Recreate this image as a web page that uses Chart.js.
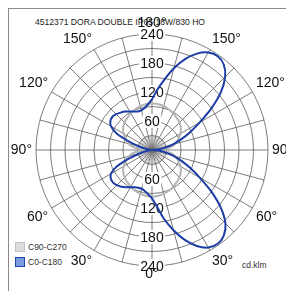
<!DOCTYPE html>
<html>
<head>
<meta charset="utf-8">
<script src="https://cdn.jsdelivr.net/npm/chart.js@4/dist/chart.umd.min.js"></script>
<style>
  html, body { margin: 0; padding: 0; background: #fff; }
  #wrap { position: relative; width: 286px; height: 291px; overflow: hidden;
          font-family: "Liberation Sans", Arial, sans-serif; }
  #frame { position: absolute; left: 8px; top: 8px; right: -4px; bottom: -4px;
           border-left: 1px solid #8a8a8a; border-top: 1px solid #8a8a8a; }
  #title { position: absolute; left: 35px; top: 17px; font-size: 8.6px; line-height: 10px;
           color: #222; white-space: nowrap; }
  #chart { position: absolute; left: 0; top: 0; }
  .leg { position: absolute; left: 15px; height: 10px; font-size: 8.5px; line-height: 10px;
         color: #333; white-space: nowrap; }
  .leg i { display: inline-block; width: 8px; height: 8px; vertical-align: top;
           margin-right: 3px; }
  #unit { position: absolute; left: 242px; top: 260px; font-size: 8.5px; line-height: 10px; color: #333; }
</style>
</head>
<body>
<div id="wrap">
  <div id="frame"></div>
  <div id="title">4512371 DORA DOUBLE IP65 18W/830 HO</div>
  <div class="leg" style="top:242px"><i style="background:#dcdcdc;border:1px solid #c2c2c2"></i>C90-C270</div>
  <div class="leg" style="top:257px"><i style="background:#7c9ce0;border:1px solid #1f43a8"></i>C0-C180</div>
  <div id="unit">cd.klm</div>
  <canvas id="chart" width="286" height="291"></canvas>
</div>
<script>
// gamma angles (0 = down, 180 = up), every 5 deg
const gammaDeg = [0, 5, 10, 15, 20, 25, 30, 35, 40, 45, 50, 55, 60, 65, 70, 75, 80, 85, 90,
                  95, 100, 105, 110, 115, 120, 125, 130, 135, 140, 145, 150, 155, 160, 165, 170, 175, 180];

// C0 half of C0-C180 (drawn on the right)
const c0Values = [100, 118, 145, 172, 198, 219, 233, 237, 231, 215, 186, 150, 114, 87, 64, 45, 28, 12, 0,
                  12, 28, 45, 64, 87, 114, 150, 186, 214, 231, 237, 233, 220, 200, 175, 148, 125, 105];
// C180 half of C0-C180 (drawn on the left)
const c180Values = [100, 92, 86, 83, 83, 85, 89, 94, 99, 103, 105, 104, 98, 80, 48, 24, 11, 4, 0,
                    4, 11, 24, 48, 80, 98, 105, 107, 105, 101, 97, 92, 88, 85, 85, 88, 95, 105];
// C90 / C270 (same on both sides)
const c90Values = [96, 96, 95, 94, 92, 90, 88, 85, 83, 80, 77, 73, 68, 62, 56, 50, 42, 28, 6,
                   28, 42, 50, 56, 62, 68, 73, 77, 80, 83, 85, 88, 90, 92, 94, 95, 96, 96];

const radialTicks = [60, 120, 180, 240];
const angleLabelStep = 30;
const gridColor = '#5c5c5c';

// going clockwise from the top: right side 180 -> 0, then left side 5 -> 175
const labels = [...gammaDeg.slice().reverse(), ...gammaDeg.slice(1, gammaDeg.length - 1)];
const blueData = [...c0Values.slice().reverse(), ...c180Values.slice(1, c180Values.length - 1)];
const grayData = [...c90Values.slice().reverse(), ...c90Values.slice(1, c90Values.length - 1)];

const font14 = '14px "Liberation Sans", Arial, sans-serif';

/* texts around the polar grid */
const polarText = {
    id: 'polarText',
    beforeDatasetsDraw(chart) {
        const scale = chart.scales.r;
        const ctx = chart.ctx;
        const n = chart.data.labels.length;
        ctx.save();
        // short 5 deg spokes at the centre
        ctx.strokeStyle = '#777';
        ctx.lineWidth = 0.4;
        for (let i = 0; i < n; i++) {
            if (i % 3 === 0) continue;
            const p = scale.getPointPositionForValue(i, 30);
            ctx.beginPath();
            ctx.moveTo(scale.xCenter, scale.yCenter);
            ctx.lineTo(p.x, p.y);
            ctx.stroke();
        }
        // intensity values up and down the vertical axis
        ctx.font = font14;
        ctx.textAlign = 'center';
        ctx.textBaseline = 'middle';
        radialTicks.forEach(v => {
            [0, n / 2].forEach(i => {
                const p = scale.getPointPositionForValue(i, v);
                const t = String(v);
                const w = ctx.measureText(t).width + 3;
                ctx.fillStyle = '#fff';
                ctx.fillRect(p.x - w / 2, p.y - 7, w, 14);
                ctx.fillStyle = '#111';
                ctx.fillText(t, p.x, p.y + 1);
            });
        });
        ctx.restore();
    },
    afterDraw(chart) {
        const scale = chart.scales.r;
        const ctx = chart.ctx;
        const n = chart.data.labels.length;
        ctx.save();
        ctx.font = font14;
        ctx.fillStyle = '#111';
        const h = 14;
        for (let i = 0; i < n; i++) {
            if (chart.data.labels[i] % angleLabelStep !== 0) continue;
            const a = i * 360 / n;
            const p = scale.getPointPosition(i, scale.drawingArea + 4);
            ctx.textAlign = (a === 0 || a === 180) ? 'center' : (a < 180 ? 'left' : 'right');
            let y = p.y;
            if (a === 90 || a === 270) y -= h / 2;
            else if (a > 270 || a < 90) y -= h;
            else if (a === 180) y -= 3;
            ctx.textBaseline = 'top';
            ctx.fillText(chart.data.labels[i] + '°', p.x, y);
        }
        ctx.restore();
    }
};

let ctx = document.getElementById('chart').getContext('2d');

let chart = new Chart(ctx, {
    type: 'radar',
    data: {
        labels: labels,
        datasets: [{
            label: 'C0-C180',
            data: blueData,
            borderColor: '#1c3da6',
            borderWidth: 2,
            fill: false,
            pointRadius: 0,
            tension: 0.25
        }, {
            label: 'C90-C270',
            data: grayData,
            borderColor: '#b4b4b4',
            borderWidth: 2,
            fill: false,
            pointRadius: 0,
            tension: 0.25
        }]
    },
    options: {
        responsive: false,
        animation: false,
        layout: { padding: { left: 36, right: 18, top: 34, bottom: 25 } },
        plugins: {
            legend: { display: false },
            title: { display: false },
            tooltip: { enabled: false }
        },
        scales: {
            r: {
                min: 0,
                max: 240,
                ticks: { display: false, stepSize: 30 },
                pointLabels: { display: false },
                grid: { circular: true, color: gridColor, lineWidth: 0.8 },
                angleLines: {
                    display: true,
                    color: gridColor,
                    lineWidth: c => (c.index % 3 === 0 ? 0.8 : 0)
                }
            }
        }
    },
    plugins: [polarText]
});
</script>
</body>
</html>
